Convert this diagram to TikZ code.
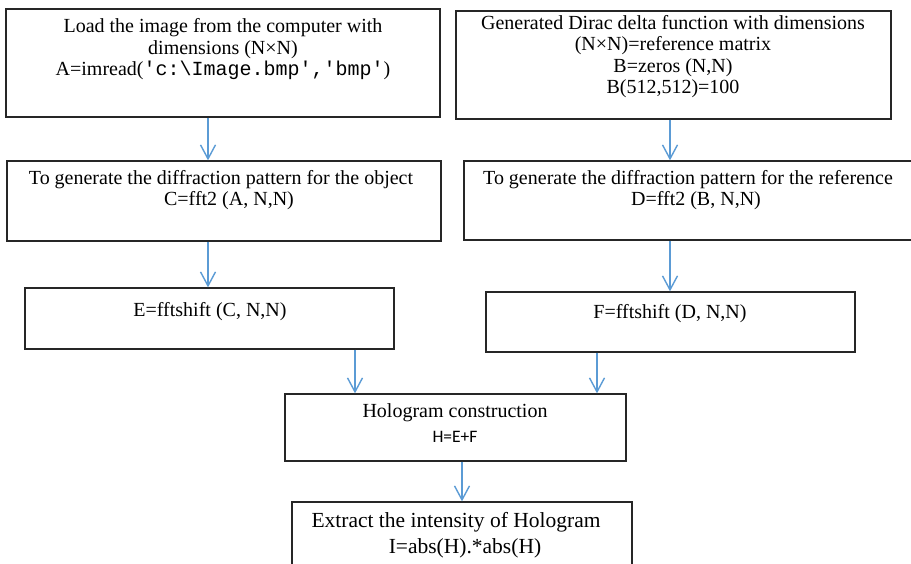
\documentclass[tikz,border=0pt]{standalone}
\usepackage{fontspec}
\setmainfont{Liberation Serif}
\setmonofont{Liberation Mono}
\newfontfamily\calib{Carlito}
\usetikzlibrary{arrows.meta}
\definecolor{arrblue}{HTML}{5B9BD5}
\tikzset{
  box/.style={draw=black!85, line width=1.3pt, rectangle, inner sep=0pt},
  txt/.style={align=center, inner sep=0pt, font=\fontsize{20}{21.5}\selectfont},
  bigtxt/.style={align=center, inner sep=0pt, font=\fontsize{21.5}{26}\selectfont},
  arr/.style={draw=arrblue, line width=1.4pt, -{Straight Barb[length=14pt,width=15pt,line width=1.4pt]}}
}
\begin{document}
\begin{tikzpicture}[x=1pt,y=-1pt]
\useasboundingbox (0,0) rectangle (911,564);
\clip (0,0) rectangle (911,564);
% boxes
\node[box, minimum width=434pt, minimum height=108pt] (b1) at (223,63) {};
\node[box, minimum width=435pt, minimum height=108pt] (b2) at (673.5,65) {};
\node[box, minimum width=434pt, minimum height=80pt] (b3) at (224,201) {};
\node[box, minimum width=456pt, minimum height=79pt] (b4) at (692,200.5) {};
\node[box, minimum width=369pt, minimum height=61pt] (b5) at (209.5,318.5) {};
\node[box, minimum width=369pt, minimum height=60pt] (b6) at (670.5,322) {};
\node[box, minimum width=341pt, minimum height=67pt] (b7) at (455.5,427.5) {};
\node[box, minimum width=340pt, minimum height=80pt] (b8) at (462,542) {};
% texts
\node[txt] (t1) at (223,49.5) {Load the image from the computer with\\dimensions (N×N)\\A=imread(\texttt{'c:\textbackslash Image.bmp','bmp'})};
\node[txt] (t2) at (673,56.5) {Generated Dirac delta function with dimensions\\(N×N)=reference matrix\\B=zeros (N,N)\\B(512,512)=100};
\node[txt] (t3) at (221,190) {To generate the diffraction pattern for the object\\\hspace*{16pt}C=fft2 (A, N,N)};
\node[txt] (t4) at (688,190) {To generate the diffraction pattern for the reference\\\hspace*{16pt}D=fft2 (B, N,N)};
\node[txt] (t5) at (210,312) {E=fftshift (C, N,N)};
\node[txt] (t6) at (670,314) {F=fftshift (D, N,N)};
\node[txt] (t7a) at (455,413) {Hologram construction};
\node[inner sep=0pt, font=\calib\fontsize{17.5}{20}\selectfont] (t7b) at (455,437) {H=E+F};
\node[bigtxt] (t8) at (456,535) {Extract the intensity of Hologram\\\hspace*{18pt}I=abs(H).*abs(H)};
% arrow x positions
\coordinate (x1) at (208,0);
\coordinate (x2) at (670,0);
\coordinate (x5) at (355,0);
\coordinate (x6) at (597,0);
\coordinate (x7) at (462,0);
\draw[arr] (b1.south -| x1) -- (b3.north -| x1);
\draw[arr] (b2.south -| x2) -- (b4.north -| x2);
\draw[arr] (b3.south -| x1) -- (b5.north -| x1);
\draw[arr] (b4.south -| x2) -- (b6.north -| x2);
\draw[arr] (b5.south -| x5) -- (b7.north -| x5);
\draw[arr] (b6.south -| x6) -- (b7.north -| x6);
\draw[arr] (b7.south -| x7) -- (b8.north -| x7);
\end{tikzpicture}
\end{document}
